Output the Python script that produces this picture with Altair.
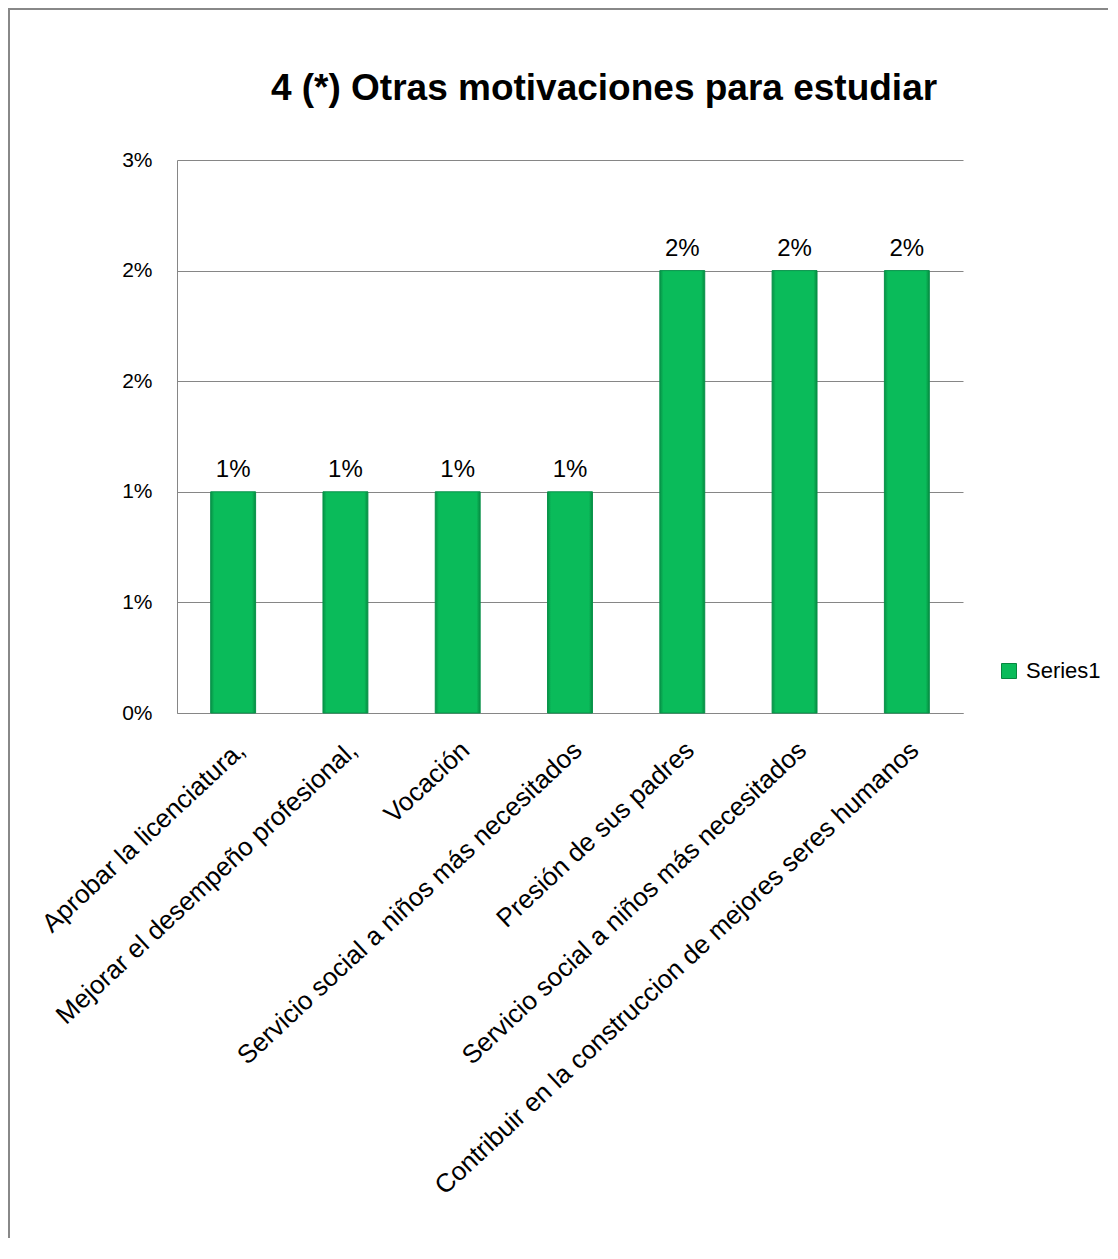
import json
import altair as alt
import pandas as pd

# ---- data ----
categories = [
    "Aprobar la licenciatura,",
    "Mejorar el desempeño profesional,",
    "Vocación",
    "Servicio social a niños más necesitados",
    "Presión de sus padres",
    "Servicio social a niños más necesitados",
    "Contribuir en la construccion de mejores seres humanos",
]
values = [0.01, 0.01, 0.01, 0.01, 0.02, 0.02, 0.02]
series_name = "Series1"
y_ticks = [0, 0.005, 0.01, 0.015, 0.02, 0.025]
y_tick_labels = ["0%", "1%", "1%", "2%", "2%", "3%"]
title_text = "4 (*) Otras motivaciones para estudiar"

df = pd.DataFrame({"idx": list(range(len(categories))), "value": values,
                   "series": [series_name] * len(categories)})

FONT = "Liberation Sans"
GREEN = "#0ABB5A"
GRID = "#868686"

x_label_expr = json.dumps(categories, ensure_ascii=False) + "[datum.value]"
y_label_expr = json.dumps(y_tick_labels) + "[round(datum.value*200)]"

x_enc = alt.X(
    "idx:O",
    title=None,
    scale=alt.Scale(paddingInner=0.6, paddingOuter=0.3),
    axis=alt.Axis(labelExpr=x_label_expr, labelAngle=-43, labelAlign="right",
                  labelBaseline="middle", labelPadding=33, labelOffset=8,
                  ticks=False, domainColor=GRID, labelFont=FONT, labelFontSize=26,
                  labelColor="#000000", grid=False, labelLimit=1000),
)
y_enc = alt.Y(
    "value:Q",
    title=None,
    scale=alt.Scale(domain=[0, 0.025], nice=False),
    axis=alt.Axis(values=y_ticks, labelExpr=y_label_expr, ticks=False,
                  domainColor=GRID, gridColor=GRID, labelFont=FONT,
                  labelFontSize=21, labelColor="#000000", labelPadding=25),
)

gradient = alt.LinearGradient(
    gradient="linear", x1=0, x2=1, y1=0, y2=0,
    stops=[alt.GradientStop(color="#079146", offset=0),
           alt.GradientStop(color=GREEN, offset=0.08),
           alt.GradientStop(color=GREEN, offset=0.92),
           alt.GradientStop(color="#078a40", offset=1)],
)

border = alt.Chart(pd.DataFrame({"k": [0]})).mark_rect(
    fill="transparent", stroke="#888888", strokeWidth=2
).encode(x=alt.value(-168), y=alt.value(-151), x2=alt.value(1500), y2=alt.value(1500))

title_layer = alt.Chart(pd.DataFrame({"t": [title_text]})).mark_text(
    font=FONT, fontSize=37, fontWeight="bold", color="#000000",
    align="center", baseline="alphabetic"
).encode(x=alt.value(427), y=alt.value(-60), text="t:N")

bars = alt.Chart(df).mark_bar(fill=gradient, stroke="#08924a", strokeWidth=1).encode(
    x=x_enc, y=y_enc
)

labels = alt.Chart(df).mark_text(
    dy=-15, baseline="alphabetic", font=FONT, fontSize=24, color="#000000"
).encode(x=alt.X("idx:O"), y=alt.Y("value:Q"), text=alt.Text("value:Q", format=".0%"))

legend_layer = alt.Chart(pd.DataFrame({"series": [series_name]})).mark_square(
    opacity=0, size=0
).encode(
    color=alt.Color(
        "series:N",
        scale=alt.Scale(range=[GREEN]),
        legend=alt.Legend(title=None, orient="none", legendX=821, legendY=500,
                          symbolType="square", symbolSize=225, symbolOpacity=1,
                          symbolStrokeColor="#07863f", symbolStrokeWidth=1,
                          labelFont=FONT, labelFontSize=22, labelColor="#000000",
                          labelOffset=6),
    )
)

chart = alt.layer(border, title_layer, bars, labels, legend_layer).properties(
    width=786,
    height=553,
    padding={"left": 169, "top": 152, "right": 145, "bottom": 525},
    autosize=alt.AutoSizeParams(type="none"),
).configure(background="white").configure_view(stroke=None)

chart.save("out.html", embed_options={"renderer": "svg", "actions": False})
